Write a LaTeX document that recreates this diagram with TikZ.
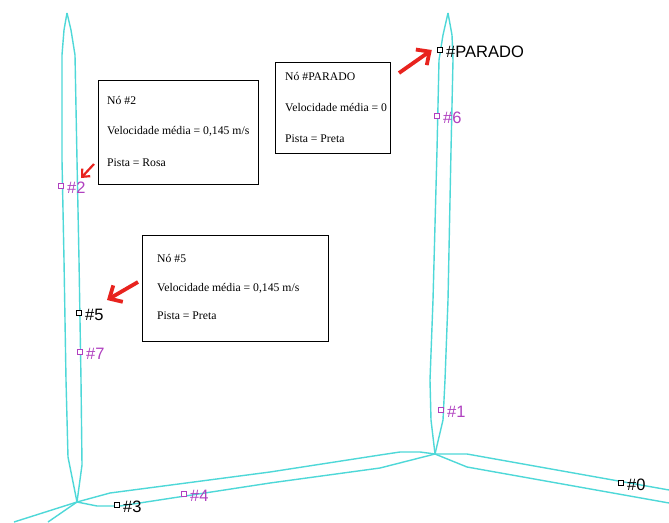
\documentclass[tikz,border=0pt]{standalone}
\usepackage{fontspec}
\setmainfont{Liberation Serif}
\newfontfamily\labfont{Liberation Sans}
\usetikzlibrary{arrows.meta}
\definecolor{lanecol}{HTML}{4ED8D8}
\definecolor{purp}{HTML}{B040C0}
\definecolor{arrred}{HTML}{E8231E}
\tikzset{
  lane/.style={lanecol, line width=1.4pt, line join=round},
  mk/.style={draw, rectangle, inner sep=0pt, minimum size=5.5pt, line width=1pt},
  lab/.style={anchor=west, inner sep=0pt, font=\labfont\fontsize{16.5}{18}\selectfont},
  infobox/.style={draw, line width=1pt, rectangle, anchor=north west},
  boxtxt/.style={anchor=west, inner sep=0pt, font=\fontsize{11.7}{13}\selectfont},
  redarrow/.style={arrred, line width=3.8pt, -{Straight Barb[length=10pt, width=19pt, line width=3.8pt]}}
}
\begin{document}
\begin{tikzpicture}[x=1pt,y=-1pt]
\useasboundingbox (0,0) rectangle (669,522);
\fill[white] (0,0) rectangle (669,522);
% lanes
\draw[lane] (67,13) -- (64,30) -- (62,55) -- (62,160) -- (64,260) -- (66,380) -- (68,457) -- (77,502);
\draw[lane] (67,13) -- (71,30) -- (75,55) -- (77,160) -- (79,260) -- (81,380) -- (82,465) -- (77,502);
\draw[lane] (448,13) -- (443,35) -- (439,60) -- (437,150) -- (433,300) -- (430,380) -- (431,420) -- (435,454);
\draw[lane] (448,13) -- (452,35) -- (453,60) -- (451,150) -- (448,300) -- (445,380) -- (443,420) -- (435,454);
\draw[lane] (77,502) -- (110,493) -- (270,472) -- (380,455) -- (400,452) -- (420,452) -- (435,454);
\draw[lane] (77,502) -- (97,506) -- (120,506) -- (270,483) -- (380,468) -- (435,454);
\draw[lane] (435,454) -- (467,454) -- (669,490);
\draw[lane] (435,454) -- (467,467) -- (669,503);
\draw[lane] (77,502) -- (14,522);
\draw[lane] (77,502) -- (48,522);
% markers
\node[mk, fill=white] (mparado) at (440,50) {};
\node[lab] (lparado) at (446,52) {\#PARADO};
\node[mk, draw=purp, fill=white] (m6) at (437,116) {};
\node[lab, purp] (l6) at (443,118) {\#6};
\node[mk, draw=purp, fill=white] (m2) at (61,186) {};
\node[lab, purp] (l2) at (67,188) {\#2};
\node[mk, fill=white] (m5) at (79,313) {};
\node[lab] (l5) at (85,315) {\#5};
\node[mk, draw=purp, fill=white] (m7) at (80,352) {};
\node[lab, purp] (l7) at (86,354) {\#7};
\node[mk, draw=purp, fill=white] (m1) at (441,410) {};
\node[lab, purp] (l1) at (447,412) {\#1};
\node[mk, fill=white] (m3) at (117,505) {};
\node[lab] (l3) at (123,507) {\#3};
\node[mk, draw=purp, fill=white] (m4) at (184,494) {};
\node[lab, purp] (l4) at (190,496) {\#4};
\node[mk, fill=white] (m0) at (621,483) {};
\node[lab] (l0) at (627,485) {\#0};
% info boxes
\node[infobox, minimum width=160pt, minimum height=104pt] (b2) at (98,80) {};
\node[boxtxt] (b2a) at (107,100) {Nó \#2};
\node[boxtxt] (b2b) at (107,131) {Velocidade média = 0,145 m/s};
\node[boxtxt] (b2c) at (107,163) {Pista = Rosa};
\node[infobox, minimum width=115pt, minimum height=91pt] (bp) at (275,62) {};
\node[boxtxt] (bpa) at (285,76) {Nó \#PARADO};
\node[boxtxt] (bpb) at (285,108) {Velocidade média = 0};
\node[boxtxt] (bpc) at (285,139) {Pista = Preta};
\node[infobox, minimum width=186pt, minimum height=106pt] (b5) at (142,235) {};
\node[boxtxt] (b5a) at (157,258) {Nó \#5};
\node[boxtxt] (b5b) at (157,288) {Velocidade média = 0,145 m/s};
\node[boxtxt] (b5c) at (157,316) {Pista = Preta};
% red arrows
\coordinate (tp) at (399,73);
\coordinate (t2) at (94,164);
\coordinate (t5) at (138,282);
\draw[redarrow] (tp) -- ([shift={(-5pt,0pt)}]mparado.west);
\draw[redarrow, line width=2.2pt, -{Straight Barb[length=6pt, width=11pt, line width=2.2pt]}] (t2) -- (81,178);
\draw[redarrow] (t5) -- (107,300);
\end{tikzpicture}
\end{document}
